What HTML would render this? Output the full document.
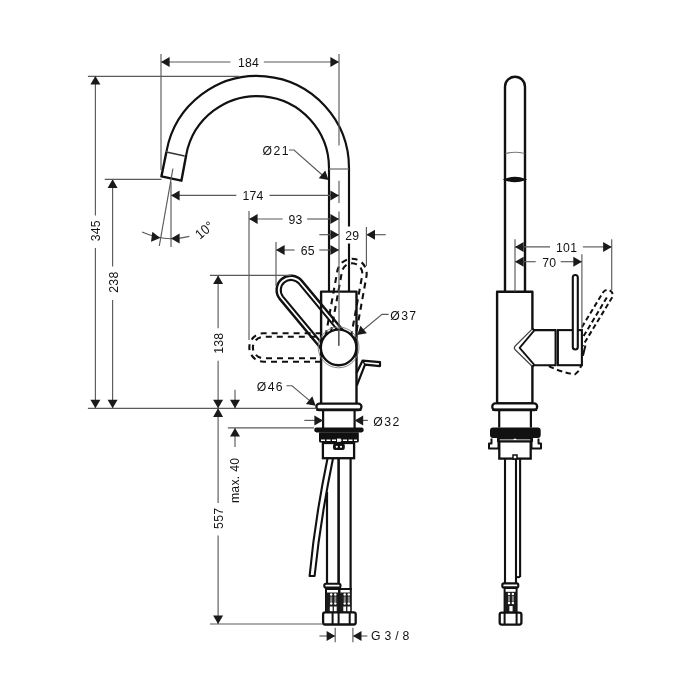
<!DOCTYPE html>
<html><head><meta charset="utf-8"><style>
html,body{margin:0;padding:0;background:#fff;}
svg{display:block;will-change:transform;}
text{font-family:"Liberation Sans",sans-serif;fill:#111;}
</style></head><body>
<svg width="700" height="700" viewBox="0 0 700 700">
<rect width="700" height="700" fill="#fff"/>
<path d="M166.5,151.4 A92,92 0 0 1 349,168 L349,226.4 M349,243.6 L349,291.7" fill="none" stroke="#111" stroke-width="2.15" stroke-linejoin="round" />
<path d="M186.2,155 A72,72 0 0 1 329,168 L329,291.7" fill="none" stroke="#111" stroke-width="2.15" stroke-linejoin="round" />
<path d="M166.5,151.4 L161.4,176.4 L181.4,180.7 L186.2,155" fill="none" stroke="#111" stroke-width="2.4" stroke-linejoin="round" />
<line x1="166.40" y1="152.00" x2="184.60" y2="156.00" stroke="#333" stroke-width="1.3" />
<line x1="329.00" y1="169.00" x2="349.00" y2="169.00" stroke="#666" stroke-width="1.2" />
<path d="M321.1,403.6 L321.1,291.6 L356.5,291.6 L356.5,403.6" fill="none" stroke="#111" stroke-width="2.4" stroke-linejoin="round" />
<clipPath id="lefthalf"><rect x="0" y="0" width="321" height="700"/></clipPath>
<clipPath id="nohub"><path d="M0,0 H700 V700 H0 Z M338.60,347.40 m-17.80,0 a17.80,17.80 0 1,0 35.60,0 a17.80,17.80 0 1,0 -35.60,0 Z" clip-rule="evenodd"/></clipPath>
<path d="M330.00,361.80 L263.60,361.80 A14.3,14.3 0 0 1 263.60,333.20 L330.00,333.20" fill="none" stroke="#111" stroke-width="2.1" stroke-linejoin="round" stroke-dasharray="6 5" stroke-dashoffset="2" clip-path="url(#lefthalf)"/>
<path d="M330.00,358.20 L263.60,358.20 A10.7,10.7 0 0 1 263.60,336.80 L330.00,336.80" fill="none" stroke="#111" stroke-width="2.1" stroke-linejoin="round" stroke-dasharray="6 5" stroke-dashoffset="8" clip-path="url(#lefthalf)"/>
<path d="M324.03,344.78 L337.33,270.98 A14.8,14.8 0 0 1 366.47,276.22 L353.17,350.02" fill="none" stroke="#111" stroke-width="2.1" stroke-linejoin="round" stroke-dasharray="6 4.8" stroke-dashoffset="2" clip-path="url(#nohub)"/>
<path d="M328.47,345.55 L341.97,271.55 A10.3,10.3 0 0 1 362.23,275.25 L348.73,349.25" fill="none" stroke="#111" stroke-width="2.1" stroke-linejoin="round" stroke-dasharray="6 4.8" stroke-dashoffset="9" clip-path="url(#nohub)"/>
<path d="M327.60,356.54 L279.90,299.14 A14.3,14.3 0 0 1 301.90,280.86 L349.60,338.26" fill="none" stroke="#111" stroke-width="2.4" stroke-linejoin="round" clip-path="url(#nohub)"/>
<path d="M330.68,353.98 L282.98,296.58 A10.3,10.3 0 0 1 298.82,283.42 L346.52,340.82" fill="none" stroke="#111" stroke-width="2.1" stroke-linejoin="round" clip-path="url(#nohub)"/>
<circle cx="338.6" cy="347.4" r="20.4" fill="none" stroke="#7a7a7a" stroke-width="0.9"/>
<circle cx="338.6" cy="347.4" r="17.8" fill="#fff" stroke="#111" stroke-width="2.4"/>
<line x1="338.60" y1="330.00" x2="338.60" y2="345.70" stroke="#5a5a5a" stroke-width="1.15" />
<path d="M356.6,372.9 L362.5,360.7 L380,362.1 L380,366.1 L365,364.6 L356.8,385.7" fill="none" stroke="#111" stroke-width="2.2" stroke-linejoin="round" />
<line x1="362.50" y1="360.70" x2="365.00" y2="364.60" stroke="#111" stroke-width="1.5" />
<rect x="316.4" y="403.6" width="45" height="6.4" rx="3" fill="#fff" stroke="#111" stroke-width="2.3"/>
<line x1="316.40" y1="409.80" x2="361.40" y2="409.80" stroke="#111" stroke-width="2.6" />
<line x1="323.10" y1="410.00" x2="323.10" y2="428.00" stroke="#111" stroke-width="2.2" />
<line x1="354.60" y1="410.00" x2="354.60" y2="428.00" stroke="#111" stroke-width="2.2" />
<rect x="314.3" y="427.6" width="49.3" height="4.6" rx="2" fill="#111"/>
<rect x="319" y="431.5" width="39.8" height="11" rx="1.5" fill="#111"/>
<line x1="321" y1="440.3" x2="357" y2="440.3" stroke="#fff" stroke-width="1.4" stroke-dasharray="4 1.5"/>
<line x1="316" y1="432.4" x2="362" y2="432.4" stroke="#555" stroke-width="0.6"/>
<rect x="337" y="438.6" width="3.8" height="5" fill="#fff"/>
<rect x="322.9" y="443" width="31.2" height="15.2" fill="#fff" stroke="#111" stroke-width="2.3"/>
<rect x="334" y="444.4" width="9.8" height="4.7" rx="1" fill="#111" stroke="#111" stroke-width="2"/>
<circle cx="336.8" cy="446.8" r="1.1" fill="#fff"/><circle cx="341" cy="446.8" r="1.1" fill="#fff"/>
<line x1="327.00" y1="492.00" x2="327.00" y2="584.00" stroke="#111" stroke-width="2.2" />
<line x1="338.60" y1="458.00" x2="338.60" y2="590.00" stroke="#111" stroke-width="2.6" />
<line x1="350.60" y1="458.00" x2="350.60" y2="590.00" stroke="#111" stroke-width="2.2" />
<path d="M327.5,458.5 Q314.8,520 309.6,576 L314.6,576 Q320.3,520 333,458.5" fill="none" stroke="#111" stroke-width="2.1" stroke-linejoin="round" fill="#fff"/>
<rect x="324.3" y="583.7" width="16.2" height="3.9" rx="1.5" fill="#fff" stroke="#111" stroke-width="2.1"/>
<rect x="326" y="589" width="13" height="23.3" fill="#fff" stroke="#111" stroke-width="2"/>
<rect x="326" y="592.5" width="13" height="19.5" fill="#1c1c1c"/>
<circle cx="331.2" cy="594.4" r="1.25" fill="#fff"/>
<circle cx="331.2" cy="603.6" r="1.25" fill="#fff"/>
<rect x="330.2" y="596.5" width="2" height="5.5" fill="#8a8a8a"/>
<rect x="329.8" y="606.5" width="2.8" height="5.2" fill="#fff"/>
<circle cx="335.3" cy="594.4" r="1.25" fill="#fff"/>
<circle cx="335.3" cy="603.6" r="1.25" fill="#fff"/>
<rect x="334.3" y="596.5" width="2" height="5.5" fill="#8a8a8a"/>
<rect x="333.90000000000003" y="606.5" width="2.8" height="5.2" fill="#fff"/>
<rect x="339.5" y="589" width="11.300000000000011" height="23.3" fill="#fff" stroke="#111" stroke-width="2"/>
<rect x="339.5" y="592.5" width="11.300000000000011" height="19.5" fill="#1c1c1c"/>
<circle cx="344.7" cy="594.4" r="1.25" fill="#fff"/>
<circle cx="344.7" cy="603.6" r="1.25" fill="#fff"/>
<rect x="343.7" y="596.5" width="2" height="5.5" fill="#8a8a8a"/>
<rect x="343.3" y="606.5" width="2.8" height="5.2" fill="#fff"/>
<circle cx="348.8" cy="594.4" r="1.25" fill="#fff"/>
<circle cx="348.8" cy="603.6" r="1.25" fill="#fff"/>
<rect x="347.8" y="596.5" width="2" height="5.5" fill="#8a8a8a"/>
<rect x="347.40000000000003" y="606.5" width="2.8" height="5.2" fill="#fff"/>
<rect x="323.1" y="612.3" width="32.6" height="12.2" rx="2" fill="#fff" stroke="#111" stroke-width="2.3"/>
<line x1="332.60" y1="612.30" x2="332.60" y2="624.50" stroke="#111" stroke-width="2" />
<line x1="338.60" y1="612.30" x2="338.60" y2="624.50" stroke="#111" stroke-width="2" />
<line x1="349.70" y1="612.30" x2="349.70" y2="624.50" stroke="#111" stroke-width="2" />
<path d="M505,291.7 L505,86.7 A10,10 0 0 1 525,86.7 L525,291.7" fill="none" stroke="#111" stroke-width="2.4" stroke-linejoin="round" />
<path d="M505.5,153.5 Q515,151 524.5,153.5" fill="none" stroke="#777" stroke-width="1.1"/>
<path d="M505,179.5 Q515,175.5 525,179.5 Q515,183.5 505,179.5 Z" fill="#111" stroke="#111" stroke-width="1.6"/>
<path d="M532.4,329 L532.4,291.7 L497.1,291.7 L497.1,403.4 L532.4,403.4 L532.4,365.6" fill="none" stroke="#111" stroke-width="2.4" stroke-linejoin="round" />
<path d="M533.5,330.1 L555.6,330.1 L555.6,365.2 L533.5,365.2" fill="none" stroke="#111" stroke-width="2.1" stroke-linejoin="round" />
<path d="M532.6,328.6 L515.2,346 Q513.4,347.9 515.2,349.8 L532.6,366.7" fill="none" stroke="#444" stroke-width="1.2" stroke-linejoin="round" />
<path d="M534.1,330.7 L519.6,347.9 L534.1,364.6" fill="none" stroke="#111" stroke-width="1.8" stroke-linejoin="round" />
<line x1="532.40" y1="328.40" x2="534.40" y2="330.90" stroke="#111" stroke-width="2" />
<line x1="532.40" y1="366.90" x2="534.40" y2="364.40" stroke="#111" stroke-width="2" />
<rect x="557.9" y="330.1" width="24" height="35.1" fill="#fff" stroke="#111" stroke-width="2.1"/>
<rect x="572.8" y="275" width="5" height="74.5" rx="2.5" fill="#fff" stroke="#111" stroke-width="2.1"/>
<clipPath id="rv"><rect x="581.5" y="0" width="119" height="700"/></clipPath>
<path d="M573.56,340.80 L603.16,292.20 A5.2,5.2 0 0 1 612.04,297.60 L582.44,346.20" fill="none" stroke="#111" stroke-width="2.0" stroke-linejoin="round" stroke-dasharray="5 3" clip-path="url(#rv)"/>
<path d="M606.8,297.5 L581,340.5" fill="none" stroke="#111" stroke-width="2.0" stroke-linejoin="round" stroke-dasharray="5 3" clip-path="url(#rv)"/>
<path d="M548.9,366.1 Q560,372 574.9,374.3 Q579,372 581.1,365.6" fill="none" stroke="#111" stroke-width="2.0" stroke-linejoin="round" stroke-dasharray="5.5 3.5"/>
<line x1="585.40" y1="345.60" x2="582.90" y2="355.80" stroke="#111" stroke-width="2" />
<rect x="492.3" y="403.4" width="44.8" height="6.6" rx="3" fill="#fff" stroke="#111" stroke-width="2.3"/>
<line x1="492.30" y1="409.80" x2="537.10" y2="409.80" stroke="#111" stroke-width="2.6" />
<line x1="499.20" y1="410.00" x2="499.20" y2="427.60" stroke="#111" stroke-width="2.2" />
<line x1="530.90" y1="410.00" x2="530.90" y2="427.60" stroke="#111" stroke-width="2.2" />
<rect x="490" y="427.5" width="50.7" height="10.4" rx="3" fill="#111"/>
<rect x="497" y="436" width="36" height="6" fill="#111"/>
<line x1="499.5" y1="440.2" x2="530.5" y2="440.2" stroke="#fff" stroke-width="1.5"/>
<circle cx="515" cy="440" r="1.6" fill="#fff"/>
<path d="M491.5,438.5 L491.5,443.5 L489,443.5 L489,448.5 L498.5,448.5 L498.5,438.5" fill="none" stroke="#111" stroke-width="2" stroke-linejoin="round" fill="#fff"/>
<path d="M538.5,438.5 L538.5,443.5 L541,443.5 L541,448.5 L531.5,448.5 L531.5,438.5" fill="none" stroke="#111" stroke-width="2" stroke-linejoin="round" fill="#fff"/>
<rect x="499.3" y="441.4" width="31.4" height="17.2" fill="#fff" stroke="#111" stroke-width="2.3"/>
<rect x="513" y="455" width="4" height="4" fill="#fff" stroke="#111" stroke-width="1.5"/>
<line x1="505.00" y1="458.60" x2="505.00" y2="583.40" stroke="#111" stroke-width="2.1" />
<line x1="516.00" y1="458.60" x2="516.00" y2="583.40" stroke="#111" stroke-width="2.1" />
<line x1="520.10" y1="458.60" x2="520.10" y2="577.10" stroke="#111" stroke-width="2.1" />
<line x1="516.00" y1="577.10" x2="520.10" y2="577.10" stroke="#111" stroke-width="2" />
<rect x="502.3" y="583.4" width="16" height="4" rx="1.5" fill="#fff" stroke="#111" stroke-width="2.1"/>
<rect x="504.6" y="588" width="12" height="24.6" fill="#fff" stroke="#111" stroke-width="2"/>
<rect x="504.6" y="591.8" width="12" height="20.5" fill="#1c1c1c"/>
<circle cx="509" cy="593.9" r="1.25" fill="#fff"/>
<circle cx="509" cy="602.9" r="1.25" fill="#fff"/>
<rect x="508" y="596" width="2" height="5.5" fill="#8a8a8a"/>
<circle cx="512.9" cy="593.9" r="1.25" fill="#fff"/>
<circle cx="512.9" cy="602.9" r="1.25" fill="#fff"/>
<rect x="511.9" y="596" width="2" height="5.5" fill="#8a8a8a"/>
<rect x="509.4" y="606" width="3.2" height="5.5" fill="#fff"/>
<rect x="499.7" y="612.6" width="21.7" height="12" rx="2" fill="#fff" stroke="#111" stroke-width="2.3"/>
<line x1="504.60" y1="612.60" x2="504.60" y2="624.60" stroke="#111" stroke-width="2" />
<line x1="516.60" y1="612.60" x2="516.60" y2="624.60" stroke="#111" stroke-width="2" />
<line x1="161.00" y1="62.00" x2="230.50" y2="62.00" stroke="#5a5a5a" stroke-width="1.15" />
<line x1="263.80" y1="62.00" x2="339.00" y2="62.00" stroke="#5a5a5a" stroke-width="1.15" />
<polygon points="161.00,62.00 169.60,57.00 169.60,67.00" fill="#1a1a1a"/>
<polygon points="339.00,62.00 330.40,67.00 330.40,57.00" fill="#1a1a1a"/>
<text transform="translate(248.50 62.00) rotate(0) scale(0.9 1)" x="0" y="4.90" text-anchor="middle" font-size="13.6" style="letter-spacing:0.3px">184</text>
<line x1="161.00" y1="54.00" x2="161.00" y2="170.00" stroke="#5a5a5a" stroke-width="1.15" />
<line x1="339.00" y1="54.00" x2="339.00" y2="145.40" stroke="#5a5a5a" stroke-width="1.15" />
<line x1="339.00" y1="180.70" x2="339.00" y2="202.90" stroke="#5a5a5a" stroke-width="1.15" />
<line x1="339.00" y1="211.40" x2="339.00" y2="345.70" stroke="#5a5a5a" stroke-width="1.15" />
<line x1="87.90" y1="76.30" x2="239.50" y2="76.30" stroke="#5a5a5a" stroke-width="1.15" />
<line x1="95.40" y1="76.00" x2="95.40" y2="215.40" stroke="#5a5a5a" stroke-width="1.15" />
<line x1="95.40" y1="247.90" x2="95.40" y2="408.30" stroke="#5a5a5a" stroke-width="1.15" />
<polygon points="95.40,76.00 100.40,84.60 90.40,84.60" fill="#1a1a1a"/>
<polygon points="95.40,408.30 90.40,399.70 100.40,399.70" fill="#1a1a1a"/>
<text transform="translate(95.40 230.70) rotate(-90) scale(0.9 1)" x="0" y="4.90" text-anchor="middle" font-size="13.6" style="letter-spacing:0.3px">345</text>
<line x1="112.60" y1="179.30" x2="112.60" y2="266.40" stroke="#5a5a5a" stroke-width="1.15" />
<line x1="112.60" y1="300.00" x2="112.60" y2="408.30" stroke="#5a5a5a" stroke-width="1.15" />
<polygon points="112.60,179.30 117.60,187.90 107.60,187.90" fill="#1a1a1a"/>
<polygon points="112.60,408.30 107.60,399.70 117.60,399.70" fill="#1a1a1a"/>
<text transform="translate(112.60 282.10) rotate(-90) scale(0.9 1)" x="0" y="4.90" text-anchor="middle" font-size="13.6" style="letter-spacing:0.3px">238</text>
<line x1="104.70" y1="179.30" x2="161.50" y2="179.30" stroke="#5a5a5a" stroke-width="1.15" />
<line x1="87.90" y1="408.30" x2="316.50" y2="408.30" stroke="#5a5a5a" stroke-width="1.15" />
<line x1="171.00" y1="195.40" x2="236.30" y2="195.40" stroke="#5a5a5a" stroke-width="1.15" />
<line x1="269.50" y1="195.40" x2="339.00" y2="195.40" stroke="#5a5a5a" stroke-width="1.15" />
<polygon points="171.00,195.40 179.60,190.40 179.60,200.40" fill="#1a1a1a"/>
<polygon points="339.00,195.40 330.40,200.40 330.40,190.40" fill="#1a1a1a"/>
<text transform="translate(253.00 195.40) rotate(0) scale(0.9 1)" x="0" y="4.90" text-anchor="middle" font-size="13.6" style="letter-spacing:0.3px">174</text>
<line x1="171.00" y1="182.00" x2="171.00" y2="247.00" stroke="#5a5a5a" stroke-width="1.15" />
<line x1="249.00" y1="219.00" x2="282.60" y2="219.00" stroke="#5a5a5a" stroke-width="1.15" />
<line x1="307.10" y1="219.00" x2="339.00" y2="219.00" stroke="#5a5a5a" stroke-width="1.15" />
<polygon points="249.00,219.00 257.60,214.00 257.60,224.00" fill="#1a1a1a"/>
<polygon points="339.00,219.00 330.40,224.00 330.40,214.00" fill="#1a1a1a"/>
<text transform="translate(295.60 219.00) rotate(0) scale(0.9 1)" x="0" y="4.90" text-anchor="middle" font-size="13.6" style="letter-spacing:0.3px">93</text>
<line x1="249.00" y1="211.00" x2="249.00" y2="340.00" stroke="#5a5a5a" stroke-width="1.15" />
<line x1="276.00" y1="250.00" x2="294.60" y2="250.00" stroke="#5a5a5a" stroke-width="1.15" />
<line x1="319.30" y1="250.00" x2="339.00" y2="250.00" stroke="#5a5a5a" stroke-width="1.15" />
<polygon points="276.00,250.00 284.60,245.00 284.60,255.00" fill="#1a1a1a"/>
<polygon points="339.00,250.00 330.40,255.00 330.40,245.00" fill="#1a1a1a"/>
<text transform="translate(307.80 250.00) rotate(0) scale(0.9 1)" x="0" y="4.90" text-anchor="middle" font-size="13.6" style="letter-spacing:0.3px">65</text>
<line x1="276.00" y1="242.00" x2="276.00" y2="286.00" stroke="#5a5a5a" stroke-width="1.15" />
<line x1="319.30" y1="234.70" x2="339.00" y2="234.70" stroke="#5a5a5a" stroke-width="1.15" />
<polygon points="339.00,234.70 330.40,239.70 330.40,229.70" fill="#1a1a1a"/>
<line x1="366.40" y1="234.70" x2="385.70" y2="234.70" stroke="#5a5a5a" stroke-width="1.15" />
<polygon points="366.40,234.70 375.00,229.70 375.00,239.70" fill="#1a1a1a"/>
<text transform="translate(352.20 235.00) rotate(0) scale(0.9 1)" x="0" y="4.90" text-anchor="middle" font-size="13.6" style="letter-spacing:0.3px">29</text>
<line x1="366.40" y1="227.00" x2="366.40" y2="266.00" stroke="#5a5a5a" stroke-width="1.15" />
<line x1="218.10" y1="275.40" x2="218.10" y2="328.30" stroke="#5a5a5a" stroke-width="1.15" />
<line x1="218.10" y1="360.70" x2="218.10" y2="408.30" stroke="#5a5a5a" stroke-width="1.15" />
<polygon points="218.10,275.40 223.10,284.00 213.10,284.00" fill="#1a1a1a"/>
<polygon points="218.10,408.30 213.10,399.70 223.10,399.70" fill="#1a1a1a"/>
<text transform="translate(218.10 343.20) rotate(-90) scale(0.9 1)" x="0" y="4.90" text-anchor="middle" font-size="13.6" style="letter-spacing:0.3px">138</text>
<line x1="210.00" y1="275.40" x2="291.00" y2="275.40" stroke="#5a5a5a" stroke-width="1.15" />
<line x1="218.10" y1="408.30" x2="218.10" y2="502.90" stroke="#5a5a5a" stroke-width="1.15" />
<line x1="218.10" y1="535.60" x2="218.10" y2="624.00" stroke="#5a5a5a" stroke-width="1.15" />
<polygon points="218.10,408.30 223.10,416.90 213.10,416.90" fill="#1a1a1a"/>
<polygon points="218.10,624.00 213.10,615.40 223.10,615.40" fill="#1a1a1a"/>
<text transform="translate(218.10 518.30) rotate(-90) scale(0.9 1)" x="0" y="4.90" text-anchor="middle" font-size="13.6" style="letter-spacing:0.3px">557</text>
<line x1="210.00" y1="624.00" x2="323.00" y2="624.00" stroke="#5a5a5a" stroke-width="1.15" />
<line x1="235.00" y1="389.70" x2="235.00" y2="408.30" stroke="#5a5a5a" stroke-width="1.15" />
<polygon points="235.00,408.30 230.00,399.70 240.00,399.70" fill="#1a1a1a"/>
<line x1="235.00" y1="427.90" x2="235.00" y2="446.90" stroke="#5a5a5a" stroke-width="1.15" />
<polygon points="235.00,427.90 240.00,436.50 230.00,436.50" fill="#1a1a1a"/>
<text transform="translate(233.80 480.40) rotate(-90) scale(0.9 1)" x="0" y="4.90" text-anchor="middle" font-size="13.6" style="letter-spacing:0.3px">max. 40</text>
<line x1="227.90" y1="427.90" x2="314.00" y2="427.90" stroke="#5a5a5a" stroke-width="1.15" />
<line x1="172.90" y1="168.60" x2="159.30" y2="246.00" stroke="#5a5a5a" stroke-width="1.15" />
<path d="M142.1,232.1 A71,71 0 0 0 189.3,236.4" fill="none" stroke="#5a5a5a" stroke-width="1.15"/>
<polygon points="160.20,238.00 150.99,241.75 152.38,231.85" fill="#1a1a1a"/>
<polygon points="171.00,238.60 179.60,233.60 179.60,243.60" fill="#1a1a1a"/>
<text transform="translate(204.30 229.80) rotate(-40) scale(0.9 1)" x="0" y="4.90" text-anchor="middle" font-size="13.6" style="letter-spacing:0.3px">10°</text>
<text transform="translate(276.20 150.00) rotate(0) scale(0.9 1)" x="0" y="4.90" text-anchor="middle" font-size="13.6" style="letter-spacing:1.6px">Ø21</text>
<polyline points="289,150 294,150 324,176.5" fill="none" stroke="#5a5a5a" stroke-width="1.15"/>
<polygon points="328.50,180.00 318.73,178.13 325.29,170.58" fill="#1a1a1a"/>
<text transform="translate(403.90 315.00) rotate(0) scale(0.9 1)" x="0" y="4.90" text-anchor="middle" font-size="13.6" style="letter-spacing:1.6px">Ø37</text>
<polyline points="388.6,314.3 382,314.3 361,331.8" fill="none" stroke="#5a5a5a" stroke-width="1.15"/>
<polygon points="357.10,335.00 360.47,325.64 366.90,333.30" fill="#1a1a1a"/>
<text transform="translate(270.40 386.40) rotate(0) scale(0.9 1)" x="0" y="4.90" text-anchor="middle" font-size="13.6" style="letter-spacing:1.6px">Ø46</text>
<polyline points="286.4,385.7 292,385.7 312,402.6" fill="none" stroke="#5a5a5a" stroke-width="1.15"/>
<polygon points="315.70,405.70 305.90,404.00 312.33,396.34" fill="#1a1a1a"/>
<line x1="304.30" y1="420.40" x2="323.00" y2="420.40" stroke="#5a5a5a" stroke-width="1.15" />
<polygon points="323.00,420.40 314.40,425.40 314.40,415.40" fill="#1a1a1a"/>
<line x1="354.60" y1="420.40" x2="367.90" y2="420.40" stroke="#5a5a5a" stroke-width="1.15" />
<polygon points="354.60,420.40 363.20,415.40 363.20,425.40" fill="#1a1a1a"/>
<text transform="translate(373.30 421.00) rotate(0) scale(0.9 1)" x="0" y="4.90" text-anchor="start" font-size="13.6" style="letter-spacing:1.6px">Ø32</text>
<line x1="319.40" y1="636.00" x2="335.20" y2="636.00" stroke="#5a5a5a" stroke-width="1.15" />
<polygon points="335.20,636.00 326.60,641.00 326.60,631.00" fill="#1a1a1a"/>
<line x1="352.90" y1="636.00" x2="367.40" y2="636.00" stroke="#5a5a5a" stroke-width="1.15" />
<polygon points="352.90,636.00 361.50,631.00 361.50,641.00" fill="#1a1a1a"/>
<line x1="335.20" y1="627.70" x2="335.20" y2="642.30" stroke="#5a5a5a" stroke-width="1.15" />
<line x1="352.90" y1="627.70" x2="352.90" y2="642.30" stroke="#5a5a5a" stroke-width="1.15" />
<text transform="translate(371.00 635.00) rotate(0) scale(0.9 1)" x="0" y="4.90" text-anchor="start" font-size="13.6" style="letter-spacing:0.3px">G 3 / 8</text>
<line x1="515.00" y1="239.30" x2="515.00" y2="291.50" stroke="#5a5a5a" stroke-width="1.15" />
<line x1="611.70" y1="239.30" x2="611.70" y2="290.00" stroke="#5a5a5a" stroke-width="1.15" />
<line x1="581.90" y1="254.30" x2="581.90" y2="328.60" stroke="#5a5a5a" stroke-width="1.15" />
<line x1="515.00" y1="246.90" x2="550.00" y2="246.90" stroke="#5a5a5a" stroke-width="1.15" />
<line x1="582.90" y1="246.90" x2="611.70" y2="246.90" stroke="#5a5a5a" stroke-width="1.15" />
<polygon points="515.00,246.90 523.60,241.90 523.60,251.90" fill="#1a1a1a"/>
<polygon points="611.70,246.90 603.10,251.90 603.10,241.90" fill="#1a1a1a"/>
<text transform="translate(566.60 247.00) rotate(0) scale(0.9 1)" x="0" y="4.90" text-anchor="middle" font-size="13.6" style="letter-spacing:0.3px">101</text>
<line x1="515.00" y1="261.70" x2="535.70" y2="261.70" stroke="#5a5a5a" stroke-width="1.15" />
<line x1="560.70" y1="261.70" x2="581.90" y2="261.70" stroke="#5a5a5a" stroke-width="1.15" />
<polygon points="515.00,261.70 523.60,256.70 523.60,266.70" fill="#1a1a1a"/>
<polygon points="581.90,261.70 573.30,266.70 573.30,256.70" fill="#1a1a1a"/>
<text transform="translate(549.20 262.00) rotate(0) scale(0.9 1)" x="0" y="4.90" text-anchor="middle" font-size="13.6" style="letter-spacing:0.3px">70</text>
</svg>
</body></html>
